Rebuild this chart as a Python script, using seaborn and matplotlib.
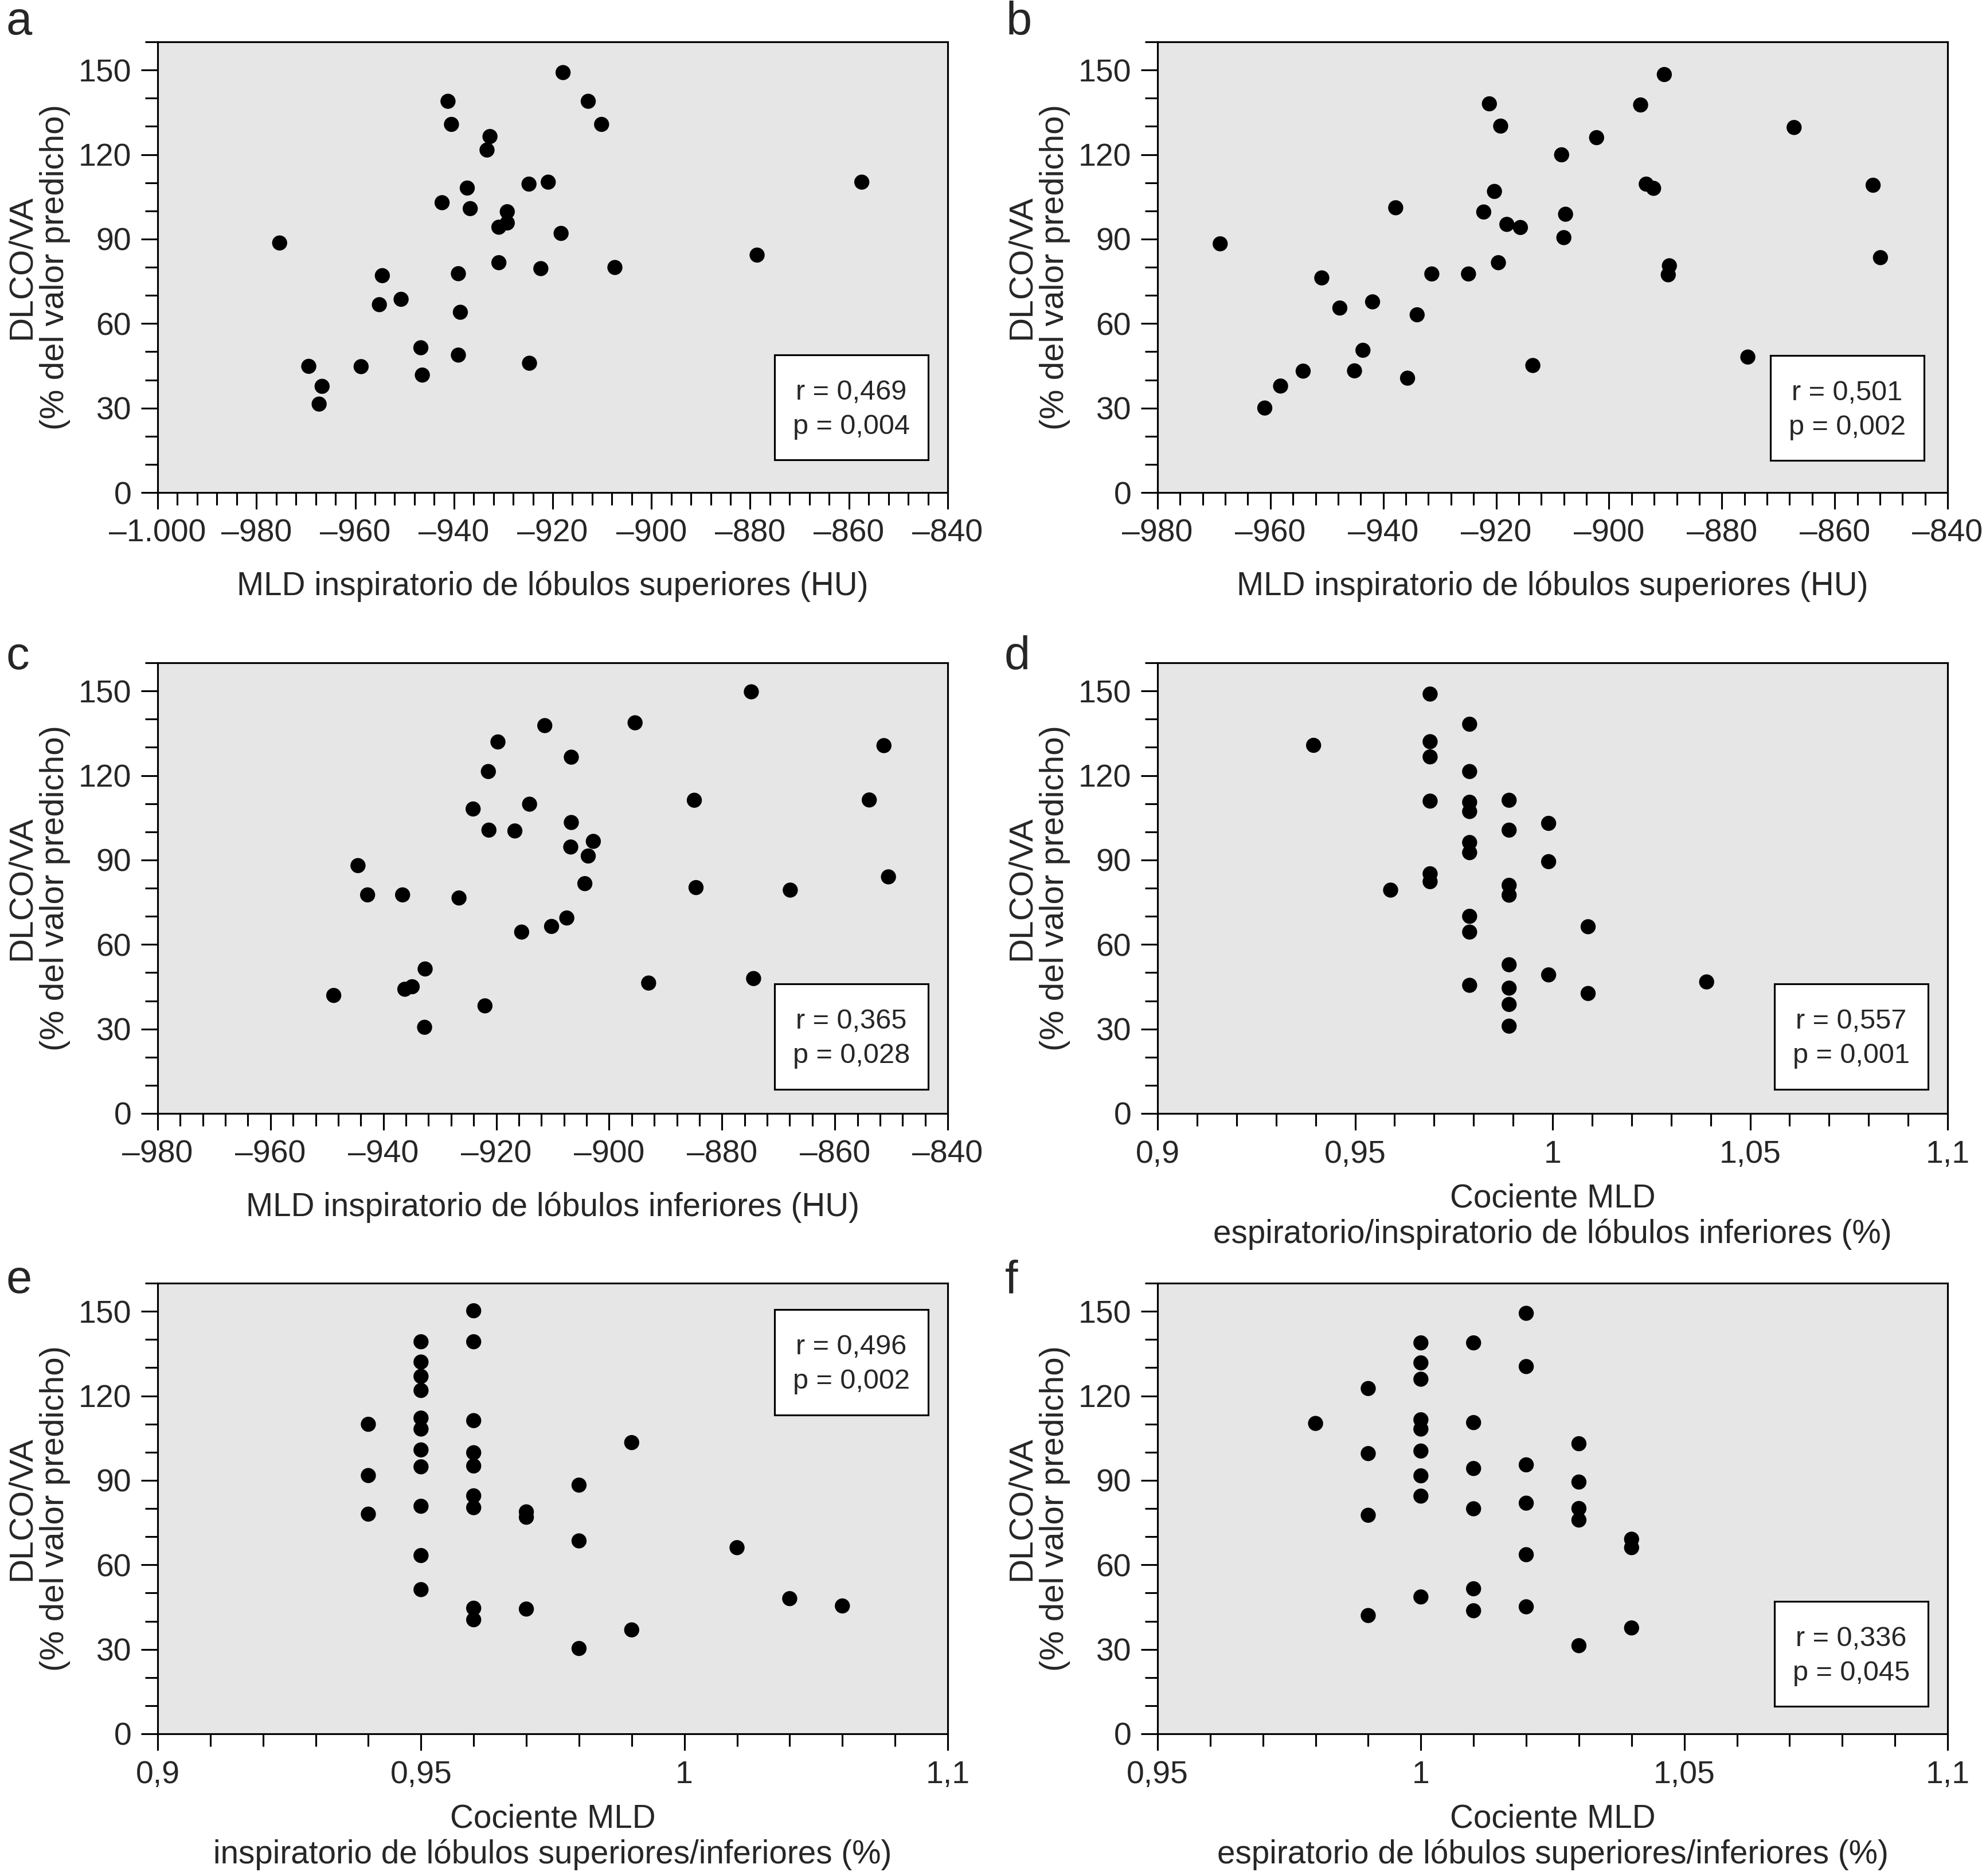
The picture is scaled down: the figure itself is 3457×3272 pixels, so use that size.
# DLCO/VA vs MLD - six scatter panels (a-f)
import matplotlib
matplotlib.use("Agg")
import matplotlib.pyplot as plt
from matplotlib.patches import Rectangle
from matplotlib.ticker import MultipleLocator
import pandas as pd
import seaborn as sns

# ---- data ----
a_x = [-975.3, -969.4, -966.7, -967.3, -958.8, -954.5, -955.1, -950.7, -946.7, -946.4,
       -942.4, -941.2, -940.5, -939.1, -938.7, -939.1, -937.3, -936.7, -932.7, -933.3,
       -930.9, -930.9, -929.2, -929.2, -924.8, -924.7, -922.4, -920.9, -917.9, -918.3,
       -912.8, -910.1, -907.4, -878.6, -857.4]
a_y = [88.6, 44.8, 37.7, 31.4, 44.7, 77.0, 66.7, 68.6, 51.4, 41.7,
       102.9, 138.9, 130.7, 77.7, 64.0, 48.8, 108.1, 100.8, 126.4, 121.6,
       94.2, 81.6, 99.7, 95.7, 109.5, 45.9, 79.5, 110.2, 149.1, 92.0,
       138.9, 130.7, 79.9, 84.3, 110.2]

b_x = [-968.9, -961.0, -958.2, -954.2, -950.9, -947.7, -945.1, -943.6, -941.9, -937.8,
       -935.7, -934.0, -931.4, -924.9, -922.2, -921.2, -920.3, -919.6, -919.2, -918.1,
       -915.7, -913.5, -908.4, -908.0, -907.7, -902.2, -894.4, -893.4, -892.1, -890.2,
       -889.3, -889.5, -875.4, -867.2, -853.2, -851.9]
b_y = [88.3, 30.0, 37.8, 43.1, 76.2, 65.5, 43.2, 50.5, 67.7, 101.1,
       40.6, 63.1, 77.6, 77.6, 99.6, 138.0, 106.9, 81.6, 130.1, 95.2,
       94.1, 45.1, 119.9, 90.5, 98.8, 126.0, 137.6, 109.5, 108.0, 148.4,
       80.5, 77.3, 48.1, 129.6, 109.1, 83.4]

c_x = [-948.8, -944.5, -942.8, -936.6, -936.2, -934.9, -932.6, -932.7, -926.6, -924.1,
       -922.0, -921.4, -921.3, -919.7, -916.7, -915.5, -914.1, -911.4, -910.2, -907.5,
       -906.7, -906.7, -906.8, -904.3, -903.7, -902.8, -895.4, -893.0, -884.9, -884.6,
       -874.8, -874.4, -867.9, -853.9, -851.3, -850.5]
c_y = [41.9, 88.0, 77.6, 77.6, 44.1, 45.0, 51.3, 30.6, 76.5, 108.1,
       38.2, 121.4, 100.6, 131.9, 100.3, 64.4, 109.8, 137.7, 66.4, 69.4,
       126.5, 103.3, 94.6, 81.6, 91.4, 96.6, 138.7, 46.3, 111.2, 80.2,
       149.7, 47.9, 79.3, 111.3, 130.6, 84.0]

d_x = [0.9395, 0.959,
       0.969, 0.969, 0.969, 0.969, 0.969, 0.969,
       0.979, 0.979, 0.979, 0.979, 0.979, 0.979, 0.979, 0.979, 0.979,
       0.989, 0.989, 0.989, 0.989, 0.989, 0.989, 0.989, 0.989,
       0.999, 0.999, 0.999, 1.009, 1.009, 1.039]
d_y = [130.7, 79.3,
       148.9, 132.0, 126.6, 110.9, 85.1, 82.3,
       138.2, 121.4, 110.5, 107.2, 96.2, 92.6, 70.0, 64.4, 45.5,
       111.2, 100.6, 81.0, 77.5, 52.8, 44.5, 38.7, 31.0,
       103.0, 89.4, 49.2, 66.3, 42.6, 46.7]

e_x = [0.94, 0.94, 0.94,
       0.95, 0.95, 0.95, 0.95, 0.95, 0.95, 0.95, 0.95, 0.95, 0.95, 0.95,
       0.96, 0.96, 0.96, 0.96, 0.96, 0.96, 0.96, 0.96, 0.96,
       0.97, 0.97, 0.97, 0.98, 0.98, 0.98, 0.99, 0.99, 1.01, 1.02, 1.03]
e_y = [109.9, 91.7, 78.0,
       139.2, 132.0, 126.9, 121.9, 112.1, 108.2, 100.8, 94.8, 80.8, 63.3, 51.2,
       150.2, 139.2, 111.2, 99.8, 95.1, 84.5, 80.3, 44.6, 40.5,
       78.8, 76.9, 44.3, 88.3, 68.5, 30.3, 103.4, 36.9, 66.1, 48.0, 45.4]

f_x = [0.98,
       0.99, 0.99, 0.99, 0.99,
       1.00, 1.00, 1.00, 1.00, 1.00, 1.00, 1.00, 1.00, 1.00,
       1.01, 1.01, 1.01, 1.01, 1.01, 1.01,
       1.02, 1.02, 1.02, 1.02, 1.02, 1.02,
       1.03, 1.03, 1.03, 1.03, 1.03,
       1.04, 1.04, 1.04]
f_y = [110.2,
       122.6, 99.5, 77.6, 42.0,
       138.8, 131.7, 125.9, 111.5, 108.2, 100.4, 91.6, 84.4, 48.6,
       138.8, 110.5, 94.2, 79.9, 51.5, 43.7,
       149.3, 130.4, 95.5, 81.9, 63.6, 45.1,
       103.0, 89.4, 80.0, 75.9, 31.3,
       69.1, 66.1, 37.6]

# tick values / labels
hu_ticks_a = [-1000, -980, -960, -940, -920, -900, -880, -860, -840]
hu_labels_a = ["–1.000", "–980", "–960", "–940", "–920", "–900", "–880", "–860", "–840"]
hu_ticks = [-980, -960, -940, -920, -900, -880, -860, -840]
hu_labels = ["–980", "–960", "–940", "–920", "–900", "–880", "–860", "–840"]
ratio_ticks_d = [0.9, 0.95, 1.0, 1.05, 1.1]
ratio_labels_d = ["0,9", "0,95", "1", "1,05", "1,1"]
ratio_ticks_e = [0.9, 0.95, 1.0, 1.05]
ratio_labels_e = ["0,9", "0,95", "1", "1,1"]
ratio_ticks_f = [0.95, 1.0, 1.05, 1.1]
ratio_labels_f = ["0,95", "1", "1,05", "1,1"]
y_ticks = [0, 30, 60, 90, 120, 150]

r_vals = ["0,469", "0,501", "0,365", "0,557", "0,496", "0,336"]
p_vals = ["0,004", "0,002", "0,028", "0,001", "0,002", "0,045"]

ylab = "DLCO/VA\n(% del valor predicho)"
xlabs = [
    "MLD inspiratorio de lóbulos superiores (HU)",
    "MLD inspiratorio de lóbulos superiores (HU)",
    "MLD inspiratorio de lóbulos inferiores (HU)",
    "Cociente MLD\nespiratorio/inspiratorio de lóbulos inferiores (%)",
    "Cociente MLD\ninspiratorio de lóbulos superiores/inferiores (%)",
    "Cociente MLD\nespiratorio de lóbulos superiores/inferiores (%)",
]
letters = ["a", "b", "c", "d", "e", "f"]

# ---- style ----
sns.set_style("ticks")
plt.rcParams["font.family"] = ["Liberation Sans", "DejaVu Sans"]
plt.rcParams["axes.linewidth"] = 0.75

W, H, DPI = 3457, 3272, 300
fig = plt.figure(figsize=(W / DPI, H / DPI), dpi=DPI)

# axes boxes in pixels: (left, top)
col_left = [275, 2019]
row_top = [73, 1156, 2238]
aw, ah = 1378, 786

panels = [
    (a_x, a_y, (-1000, -840), hu_ticks_a, hu_labels_a, 4),
    (b_x, b_y, (-980, -840), hu_ticks, hu_labels, 4),
    (c_x, c_y, (-980, -840), hu_ticks, hu_labels, 4),
    (d_x, d_y, (0.9, 1.1), ratio_ticks_d, ratio_labels_d, 0.01),
    (e_x, e_y, (0.9, 1.05), ratio_ticks_e, ratio_labels_e, 0.01),
    (f_x, f_y, (0.95, 1.1), ratio_ticks_f, ratio_labels_f, 0.01),
]
box_pos = [(0.781, 0.0725), (0.776, 0.071), (0.781, 0.054),
           (0.781, 0.054), (0.781, 0.708), (0.781, 0.061)]
letter_pos = [(10, 60), (1755, 60), (10, 1167), (1752, 1167), (10, 2255), (1753, 2255)]

for i, (xs, ys, xlim, xt, xtl, minor) in enumerate(panels):
    col, row = i % 2, i // 2
    left = col_left[col] / W
    bottom = (H - row_top[row] - ah) / H
    ax = fig.add_axes([left, bottom, aw / W, ah / H])
    ax.set_facecolor("#e6e6e6")

    df = pd.DataFrame({"x": xs, "y": ys})
    sns.scatterplot(data=df, x="x", y="y", ax=ax, color="black", s=40,
                    edgecolor="none", linewidth=0, zorder=3)

    ax.set_xlim(*xlim)
    ax.set_ylim(0, 160)
    ax.set_xticks(xt)
    ax.set_xticklabels(xtl)
    ax.xaxis.set_minor_locator(MultipleLocator(minor))
    ax.set_yticks(y_ticks)
    ax.set_yticklabels([str(v) for v in y_ticks])
    ax.yaxis.set_minor_locator(MultipleLocator(10))

    ax.tick_params(which="both", direction="out", width=0.75, color="black",
                   top=False, right=False)
    ax.tick_params(which="major", length=7, pad=4, labelsize=13.3)
    ax.tick_params(which="minor", length=5.3)
    for sp in ax.spines.values():
        sp.set_visible(True)
        sp.set_color("black")
        sp.set_linewidth(0.75)

    ax.set_ylabel(ylab, fontsize=14, linespacing=1.1)
    ax.yaxis.set_label_coords(-0.110, 0.5)
    ax.set_xlabel(xlabs[i], fontsize=13.6, linespacing=1.18)
    two_line = "\n" in xlabs[i]
    ax.xaxis.set_label_coords(0.5, -0.155 if two_line else -0.174)

    bx, by = box_pos[i]
    bw, bh = 0.194, 0.233
    ax.add_patch(Rectangle((bx, by), bw, bh, transform=ax.transAxes,
                           facecolor="white", edgecolor="black", linewidth=0.75,
                           zorder=4))
    ax.text(bx + bw / 2, by + 0.134, f"r = {r_vals[i]}", transform=ax.transAxes,
            ha="center", va="baseline", fontsize=11.7, zorder=5)
    ax.text(bx + bw / 2, by + 0.0575, f"p = {p_vals[i]}", transform=ax.transAxes,
            ha="center", va="baseline", fontsize=11.7, zorder=5)

    lx, ly = letter_pos[i]
    fig.text(lx / W, 1 - ly / H, letters[i], fontsize=19.5, ha="left", va="baseline")

fig.savefig("out.png", dpi=DPI)
